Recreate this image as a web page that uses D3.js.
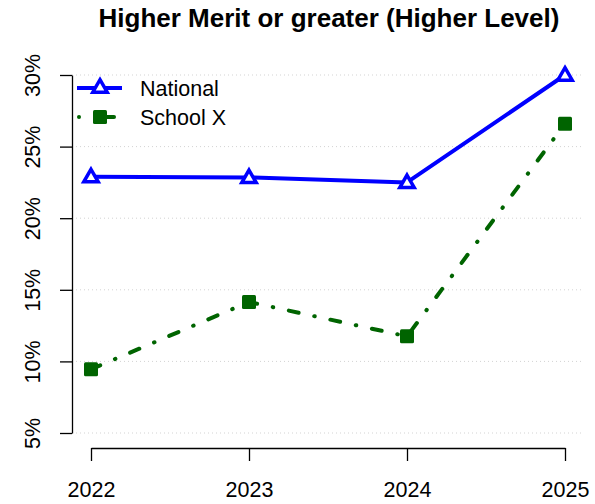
<!DOCTYPE html>
<html>
<head>
<meta charset="utf-8">
<script src="https://cdn.jsdelivr.net/npm/d3@7"></script>
<style>
  body { margin: 0; background: #fff; }
  svg text { font-family: "Liberation Sans", Arial, sans-serif; fill: #000; }
</style>
</head>
<body>
<svg class="d3" width="595" height="504"></svg>
<script>
var years = [2022, 2023, 2024, 2025];
var national = [22.9, 22.85, 22.5, 30.0];
var schoolX = [9.45, 14.15, 11.75, 26.6];
var yTicks = [5, 10, 15, 20, 25, 30];
var seriesNames = ["National", "School X"];

var svg = d3.select("svg.d3");

var x = d3.scaleLinear().domain([2022, 2025]).range([91, 565]);
var y = d3.scaleLinear().domain([5, 30]).range([433, 75]);

// title
svg.append("text")
    .attr("x", 329)
    .attr("y", 27)
    .attr("text-anchor", "middle")
    .style("font-size", "26px")
    .style("font-weight", "bold")
    .text("Higher Merit or greater (Higher Level)");

// dotted grid
svg.append("g").selectAll("line")
    .data(yTicks)
  .enter().append("line")
    .attr("x1", 72).attr("x2", 584)
    .attr("y1", function(d) { return y(d); })
    .attr("y2", function(d) { return y(d); })
    .style("stroke", "#d3d3d3")
    .style("stroke-width", 1)
    .style("stroke-dasharray", "1,3");

// y axis
var yAxis = svg.append("g")
    .attr("transform", "translate(72,0)")
    .call(d3.axisLeft(y).tickValues(yTicks).tickSize(12).tickSizeOuter(0)
      .tickFormat(function(d) { return d + "%"; }));
yAxis.selectAll("path, line").style("stroke", "#000").style("stroke-width", 1.3);
yAxis.selectAll("text")
    .attr("x", 0).attr("y", 0).attr("dy", null)
    .attr("text-anchor", "middle")
    .attr("transform", "translate(-32,0) rotate(-90)")
    .style("font-size", "21.5px");

// x axis
var xAxis = svg.append("g")
    .attr("transform", "translate(0,448)")
    .call(d3.axisBottom(x).tickValues(years).tickSize(13).tickSizeOuter(0)
      .tickPadding(21).tickFormat(d3.format("d")));
xAxis.selectAll("path, line").style("stroke", "#000").style("stroke-width", 1.3);
xAxis.selectAll("text").style("font-size", "21.5px");
svg.selectAll(".domain").style("fill", "none");

var line = d3.line()
    .x(function(d, i) { return x(years[i]); })
    .y(function(d) { return y(d); });

var tri = d3.symbol().type(d3.symbolTriangle).size(90);

// National
svg.append("path")
    .datum(national)
    .attr("d", line)
    .style("fill", "none")
    .style("stroke", "#0000ff")
    .style("stroke-width", 4)
    .style("stroke-linejoin", "round");

svg.append("g").selectAll("path")
    .data(national)
  .enter().append("path")
    .attr("d", tri)
    .attr("transform", function(d, i) { return "translate(" + x(years[i]) + "," + (y(d) + 1) + ")"; })
    .style("fill", "#fff")
    .style("stroke", "#0000ff")
    .style("stroke-width", 3.5);

// School X
svg.append("path")
    .datum(schoolX)
    .attr("d", line)
    .style("fill", "none")
    .style("stroke", "#006400")
    .style("stroke-width", 4)
    .style("stroke-linecap", "round")
    .style("stroke-dasharray", "10,16,0.5,16");

svg.append("g").selectAll("rect")
    .data(schoolX)
  .enter().append("rect")
    .attr("x", function(d, i) { return x(years[i]) - 7; })
    .attr("y", function(d) { return y(d) - 7; })
    .attr("width", 14).attr("height", 14)
    .attr("rx", 1.5)
    .style("fill", "#006400");

// legend
var legend = svg.append("g");
legend.append("line")
    .attr("x1", 77).attr("x2", 122).attr("y1", 88).attr("y2", 88)
    .style("stroke", "#0000ff").style("stroke-width", 4);
legend.append("path")
    .attr("d", tri)
    .attr("transform", "translate(100,88)")
    .style("fill", "#fff").style("stroke", "#0000ff").style("stroke-width", 3.5);
legend.append("circle")
    .attr("cx", 79).attr("cy", 117).attr("r", 2)
    .style("fill", "#006400");
legend.append("rect")
    .attr("x", 93).attr("y", 110).attr("width", 14).attr("height", 14).attr("rx", 1.5)
    .style("fill", "#006400");
legend.append("line")
    .attr("x1", 105).attr("x2", 114).attr("y1", 117).attr("y2", 117)
    .style("stroke", "#006400").style("stroke-width", 4).style("stroke-linecap", "round");
legend.selectAll("text")
    .data(seriesNames)
  .enter().append("text")
    .attr("x", 140)
    .attr("y", function(d, i) { return 88 + i * 29; })
    .attr("dy", "0.35em")
    .style("font-size", "21.5px")
    .text(function(d) { return d; });
</script>
</body>
</html>
